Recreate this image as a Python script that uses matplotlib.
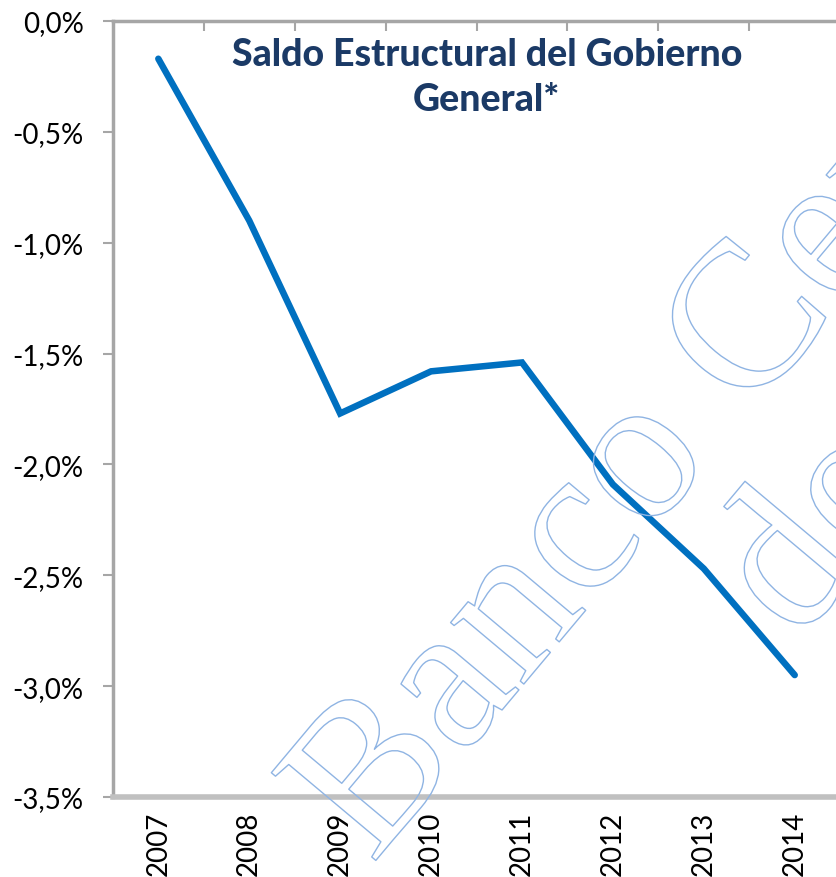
import matplotlib
matplotlib.use('Agg')
import matplotlib.pyplot as plt
import matplotlib.patheffects as pe
from matplotlib.ticker import FixedLocator

years = ['2007', '2008', '2009', '2010', '2011', '2012', '2013', '2014']
saldo = [-0.17, -0.90, -1.77, -1.58, -1.54, -2.09, -2.47, -2.95]
yticks = [0.0, -0.5, -1.0, -1.5, -2.0, -2.5, -3.0, -3.5]
ylabels = ['0,0%', '-0,5%', '-1,0%', '-1,5%', '-2,0%', '-2,5%', '-3,0%', '-3,5%']

plt.rcParams['font.family'] = ['Lato', 'DejaVu Sans']

fig = plt.figure(figsize=(8.36, 8.78), dpi=100)
ax = fig.add_axes([0.135, 0.0911, 0.870, 0.8838])

x = list(range(len(years)))
ax.plot(x, saldo, color='#0070c0', lw=4.7, solid_capstyle='round',
        solid_joinstyle='miter', zorder=3)

ax.set_xlim(-0.5, len(years) - 0.5)
ax.set_ylim(-3.5, 0)
ax.set_yticks(yticks)
ax.set_yticklabels(ylabels, fontsize=20)
ax.set_xticks(x)
ax.set_xticklabels(years, rotation=90, fontsize=20)
ax.xaxis.set_minor_locator(FixedLocator([i + 0.5 for i in x[:-1]]))

ax.tick_params(axis='x', which='major', length=0, pad=10)
ax.tick_params(axis='x', which='minor', top=True, bottom=False,
               direction='in', length=7, width=1.5, color='#a6a6a6')
ax.tick_params(axis='y', length=7, width=1.5, color='#a6a6a6', pad=14)

for s in ['left', 'top']:
    ax.spines[s].set_color('#a6a6a6')
    ax.spines[s].set_linewidth(2.5)
ax.spines['bottom'].set_color('#c0c0c0')
ax.spines['bottom'].set_linewidth(4)
ax.spines['right'].set_visible(False)

ax.text(0.514, 0.979, 'Saldo Estructural del Gobierno\nGeneral*',
        transform=ax.transAxes, ha='center', va='top', fontsize=27,
        fontweight='black', color='#1b3a66', linespacing=1.38)

# watermark
wm = dict(fontsize=150, family='Liberation Serif', rotation=50,
          rotation_mode='anchor', ha='left', va='baseline',
          color=(1, 1, 1, 0), zorder=10,
          path_effects=[pe.Stroke(linewidth=1, foreground='#8fb4e3')])
fig.text(372 / 836, 1 - 866 / 878, 'Banco Central', **wm)
fig.text(798 / 836, 1 - 644 / 878, 'de Reserva', **wm)

fig.savefig('out.png', dpi=100)
